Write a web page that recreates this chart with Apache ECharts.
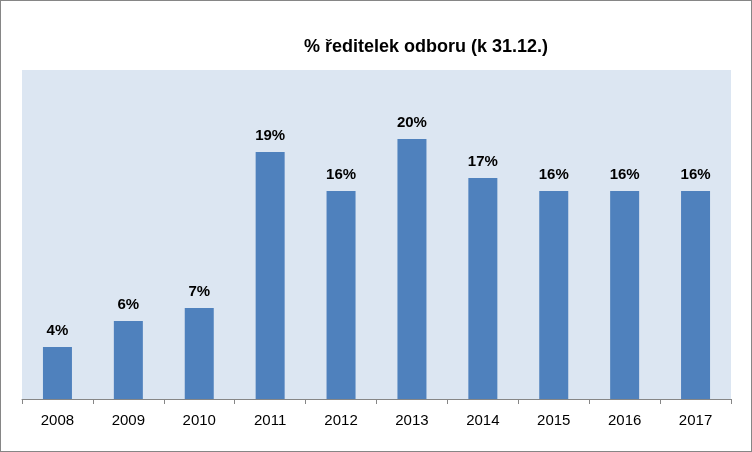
<!DOCTYPE html>
<html><head><meta charset="utf-8">
<script src="https://cdn.jsdelivr.net/npm/echarts@6/dist/echarts.min.js"></script>
<style>html,body{margin:0;padding:0;background:#fff}#c{width:750px;height:450px;border:1px solid #868686}</style>
</head><body><div id="c"></div>
<script>
const years = ['2008','2009','2010','2011','2012','2013','2014','2015','2016','2017'];
const shares = [4,6,7,19,16,20,17,16,16,16];
const chart = echarts.init(document.getElementById('c'));
chart.setOption({
  animation:false,
  title:{text:'% ředitelek odboru (k 31.12.)',left:420,top:32,textAlign:'center',
    textStyle:{fontFamily:'Liberation Sans, Arial',fontSize:18,fontWeight:'bold',color:'#000'}},
  grid:{left:21,right:20,top:69,bottom:52,show:true,backgroundColor:'#dce6f2',borderWidth:0},
  xAxis:{type:'category',data:years,
    axisLine:{lineStyle:{color:'#868686'}},
    axisTick:{show:true,length:5,lineStyle:{color:'#868686'}},
    axisLabel:{fontFamily:'Liberation Sans, Arial',fontSize:15,color:'#000',margin:14}},
  yAxis:{type:'value',min:0,max:25.3,show:false,splitLine:{show:false}},
  series:[{type:'bar',data:shares,barWidth:29,itemStyle:{color:'#4f81bd'},
    label:{show:true,position:'top',distance:9,formatter:'{c}%',
      fontFamily:'Liberation Sans, Arial',fontSize:15,fontWeight:'bold',color:'#000'}}]
});
</script></body></html>
